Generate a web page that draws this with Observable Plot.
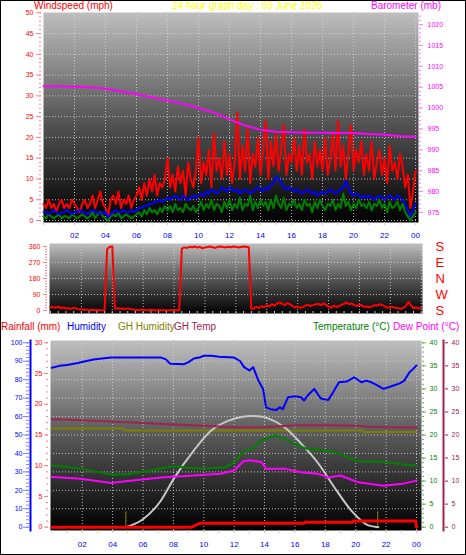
<!DOCTYPE html>
<html><head><meta charset="utf-8">
<script src="https://cdn.jsdelivr.net/npm/d3@7"></script>
<script src="https://cdn.jsdelivr.net/npm/@observablehq/plot@0.6"></script>
<style>
body{margin:0;background:#fff;}
#chart{position:relative;width:466px;height:555px;overflow:hidden;background:#fff;font-family:'Liberation Sans',Arial,sans-serif;}
#chart svg{position:absolute;left:0;top:0;}
#border{position:absolute;left:0;top:0;width:466px;height:555px;box-sizing:border-box;border:1px solid #000;pointer-events:none;}
</style></head><body><div id="chart"></div>
<script>
// ---------------- DATA ----------------
const windHours = d3.range(145).map(i => i / 6); // 10-minute readings, 00:00 .. 24:00
const windGust = [4,3,5,3,4,2,4,5,3,4,3,5,4,3,2,4,5,3,
  4,6,3,5,7,4,3,1,5,6,4,7,3,5,4,6,3,5,
  6,8,5,9,6,10,7,11,6,9,8,10,
  15,8,11,7,13,9,12,6,14,10,8,12,
  20,9,14,11,17,8,21,12,15,10,19,11,16,9,
  14,26,10,18,12,22,9,16,13,20,11,17,
  24,10,19,13,21,12,17,23,11,16,14,20,12,
  18,11,22,14,16,10,19,13,17,12,20,11,
  15,21,12,24,13,18,10,16,23,12,17,14,19,11,
  16,12,19,10,14,17,11,15,9,18,12,14,10,16,13,
  8,11,3,7,12];
const windAvg = [2,2,1.5,2,2.5,2,1.5,2,2,2.5,2,1.5,2,2,2.5,2,2,1.5,
  2,2.5,2,2,1.5,2,2,0.8,1.5,2,2.5,2,2,2.5,2,2,2.5,2,
  2.5,3,3,3.5,3.5,4,4,4.5,4.5,5,4.5,5,
  5.5,5,5.5,6,5.5,5,6,5.5,5,5.5,6,5.5,
  6,6.5,6,7,6.5,7.5,7,6.5,7,8,7.5,7,8,7.5,
  7,7.5,6.5,7,7.5,7,6.5,7,7.5,8,7.5,7,
  8,7.5,8.5,9,10.5,10,9,8,7.5,8,7.5,7,7.5,
  7,6.5,7,7.5,7,6.5,7,6,6.5,7,6.5,7,
  7.5,7,6.5,7,7.5,8,9.5,8,6.5,6,6.5,6,5.5,6,
  5.5,6,5.5,5,5.5,6,5.5,5,5.5,6,5.5,5,6,5.5,5,
  4,2.5,1,2.5,4];
const windMin = [1,0.5,1.5,1,0.5,1,1.5,0.5,1,1,0.5,1.5,1,0.5,1,1.5,1,0.5,
  1,2,0.5,1.5,2,1,0.5,0,1,1.5,1,2,0.5,1,1.5,1,0.5,1,
  1.5,2,1,2.5,1.5,3,2,2.5,1.5,3,2,3.5,
  2.5,3.5,2,4,2.5,3,2,4,3,2.5,3.5,2,
  3,4.5,2.5,4,3,5,2.5,4,3.5,2,4.5,3,5,2.5,
  4,3,5.5,2.5,4,3.5,6,2.5,4.5,3,5,3.5,
  4.5,2.5,5,3,6,4,3,5.5,2.5,4,3.5,5,3,
  4,2.5,5,3.5,4,2,4.5,3,5,3.5,2.5,4,
  3.5,5,2.5,4,3,6.5,3.5,4.5,2.5,4,3,5,3.5,4,
  3,4.5,2.5,4,3.5,5,3,4,2,4.5,3,3.5,4.5,2.5,4,
  2,1,0,1,2];
const baroHours = [0,1,2,3,4,5,6,7,8,9,10,11,12,13,14,15,16,17,18,19,20,21,22,23,24];
const baroValues = [1005.2,1005.2,1005.1,1005.0,1004.6,1004.0,1003.3,1002.5,1001.8,1001.0,1000.0,998.9,997.3,995.8,994.8,994.3,994.2,994.1,994.1,994.0,994.0,993.8,993.6,993.3,993.1];
const windDir = [18,20,15,22,12,18,10,14,8,16,12,5,8,3,5,2,4,1,3,2,0,
  2,345,358,360,10,
  12,10,11,9,12,8,5,3,4,2,6,3,1,4,2,0,3,1,2,0,1,3,0,2,1,
  348,
  355,352,358,356,360,354,358,350,355,357,360,356,352,358,360,357,355,359,356,360,358,354,357,360,358,356,
  8,
  12,20,14,25,18,30,22,35,28,40,45,38,30,42,35,25,18,22,15,20,28,32,25,30,35,38,30,40,32,22,
  15,28,20,25,32,38,45,35,40,30,25,35,28,20,22,18,25,30,28,35,30,22,15,18,20,15,12,10,15,25,48,30,12,18,10,15];

const humHours = [0,0.5,1,1.7,2.2,2.75,3.3,3.9,5,6,7.2,7.5,7.8,8.3,8.7,9.0,9.35,9.7,10.0,10.5,11,12.0,12.4,12.65,13.0,13.25,13.57,13.9,14.1,14.4,14.76,15.0,15.2,15.55,16.0,16.4,16.6,16.9,17.27,17.7,18.19,18.5,18.9,19.4,19.9,20.37,20.7,21.03,21.4,21.82,22.2,22.54,22.9,23.2,23.54,23.8,24];
const humValues = [86.5,87.5,88,89,90,91,91.5,92,92,92,92,91,88.6,88.5,88.4,89.5,91.5,92,93,93,92.5,92,90,86.8,85,86.8,80,75,65,64,63.5,65,64,70.5,71,70.5,68.7,72,75,69.8,69,73,78.6,79,81.3,78.6,79.5,78.6,77,75,76,77,78,79.5,84,86,87.7];
const ghHumHours = [0,4.7,4.75,20.5,20.55,24];
const ghHumValues = [53.5,53.5,52.5,52.5,51.6,51.6];
const ghTempHours = [0,2,4,6,8,10,12,13,14,16,18,20,21,22,24];
const ghTempValues = [23.4,23.2,22.9,22.6,22.3,22.0,21.7,21.6,21.7,22.1,22.1,22.0,21.8,21.7,21.6];
const tempHours = [0,0.57,1.9,3,3.9,5,6.1,7,8,9,9.8,11,11.4,12,12.6,13.1,13.3,13.7,14.4,14.7,15.3,15.9,16.8,18.1,19,20.1,21.8,23.2,24];
const tempValues = [13.4,13.2,12.7,12.0,11.4,11.5,12.1,12.6,13.2,12.9,12.7,12.9,13.0,14.1,16.3,17.0,17.2,18.8,19.5,19.9,19.2,18.1,17.0,16.6,15.9,14.3,14.2,13.6,13.3];
const dewHours = [0,0.57,1.9,3.9,5,7.2,9.35,11.1,12,12.6,13.1,13.8,14.1,15.3,16.4,17.5,18.2,19,20.1,21.8,23.2,24];
const dewValues = [10.9,10.8,10.5,9.6,10.0,10.8,11.2,11.6,12.3,14.3,14.5,14.1,12.7,12.7,11.9,11.6,10.8,11.2,9.8,9.0,9.5,10.1];
const sunHours = [4.86,6,7.17,8.03,9.35,10.47,11.59,12.65,13.1,13.77,14.23,15.29,16.41,17.53,18.59,19.71,20.83,21.49];
const sunValues = [0,1.3,4.3,7.9,12.5,15.7,17.3,18.0,18.1,18.0,17.7,16.3,13.6,10.4,6.5,2.7,0.3,0];
const sunEvents = [4.87, 21.45];       // sunrise / sunset markers
const sunMarkerTop = 2.6;
const rainHours = [0,9.2,9.75,16.6,16.65,19.8,19.85,23.95,24];
const rainValues = [0,0,0.65,0.65,0.8,0.8,1.0,1.0,0];

const timeTicks = [2,4,6,8,10,12,14,16,18,20,22,24];
const timeTickLabels = ["02","04","06","08","10","12","14","16","18","20","22","00"];
const windTicks = [0,5,10,15,20,25,30,35,40,45,50];
const baroTicks = [975,980,985,990,995,1000,1005,1010,1015,1020];
const dirTicks = [0,90,180,270,360];
const dirLetters = ["S","W","N","E","S"];
const rainTicks = [0,5,10,15,20,25,30];
const humTicks = [0,10,20,30,40,50,60,70,80,90,100];
const tempTicks = [0,5,10,15,20,25,30,35,40];

// ---------------- LAYOUT ----------------
const W = 466, H = 555;
const FONT = "'Liberation Sans', Arial, sans-serif";
const chart = document.getElementById("chart");
const TOP = {left: 43, right: 418, top: 12, bottom: 222};
const MID = {left: 49, right: 422, top: 243, bottom: 313};
const BOT = {left: 50, right: 421, top: 340, bottom: 530};
const xTop = [0, 24.19], xMid = [-0.065, 24.08], xBot = [-0.09, 24.33];
const yWind = [-0.48, 50.07], yBaro = [972.6, 1022.87], yDir = [-16.9, 376.9];
const yRain = [-0.54, 30.37], yHum = [-1.79, 101.25], yTemp = [-0.72, 40.5];

const RED = "#ff0000", BLUE = "#0000ff", GREEN = "#008000", MAG = "#ff00ff", OLIVE = "#808000", MAROON = "#a0224f", GREY = "#c8c8c8";
const gridStyle = {stroke: "#d6d6d6", strokeOpacity: 0.85, strokeDasharray: "1,2"};
const plain = d => String(d);

// gradient defs
const defs = d3.create("svg").attr("width", 0).attr("height", 0);
const g = defs.append("defs").append("linearGradient").attr("id", "panelBg").attr("x1", 0).attr("y1", 0).attr("x2", 0).attr("y2", 1);
g.append("stop").attr("offset", "0%").attr("stop-color", "#bebebe");
g.append("stop").attr("offset", "50%").attr("stop-color", "#585858");
g.append("stop").attr("offset", "100%").attr("stop-color", "#000000");
chart.appendChild(defs.node());

function layer(box, xDomain, yDomain, marks) {
  const svg = Plot.plot({
    width: W, height: H,
    marginLeft: box.left, marginRight: W - box.right, marginTop: box.top, marginBottom: H - box.bottom,
    x: {domain: xDomain, axis: null},
    y: {domain: yDomain, axis: null},
    style: {background: "transparent", fontFamily: FONT, overflow: "visible"},
    marks
  });
  chart.appendChild(svg);
}
const fmtTime = d => timeTickLabels[timeTicks.indexOf(d)];
const blank = () => "";

// ---- top panel: wind speed ----
layer(TOP, xTop, yWind, [
  Plot.frame({fill: "url(#panelBg)", stroke: "none"}),
  Plot.gridY(windTicks, gridStyle),
  Plot.gridX(timeTicks, gridStyle),
  Plot.lineY(windGust, {x: windHours, stroke: RED, strokeWidth: 2}),
  Plot.lineY(windMin, {x: windHours, stroke: GREEN, strokeWidth: 2}),
  Plot.lineY(windAvg, {x: windHours, stroke: BLUE, strokeWidth: 2}),
  Plot.axisY(d3.range(0, 51), {anchor: "left", tickSize: 2, dx: -2, tickFormat: blank, stroke: "#ff8080"}),
  Plot.axisY(windTicks, {anchor: "left", tickSize: 5, dx: -2, tickPadding: 3, tickFormat: plain, stroke: "#ff8080", fill: RED, fontSize: 7}),
  Plot.axisX(d3.range(0, 25), {anchor: "bottom", tickSize: 3, tickFormat: blank, stroke: "#c8c8c8"}),
  Plot.axisX(timeTicks, {anchor: "bottom", tickSize: 0, tickPadding: 10, tickFormat: fmtTime, fill: BLUE, fontSize: 8})
]);
// ---- top panel: barometer ----
layer(TOP, xTop, yBaro, [
  Plot.line(baroValues, {x: baroHours, y: baroValues, stroke: MAG, strokeWidth: 2}),
  Plot.axisY(d3.range(975, 1023), {anchor: "right", tickSize: 2, tickFormat: blank, stroke: "#ff80ff"}),
  Plot.axisY(baroTicks, {anchor: "right", tickSize: 4, tickPadding: 5, tickFormat: plain, stroke: "#ff80ff", fill: MAG, fontSize: 7})
]);
// ---- middle panel: wind direction ----
layer(MID, xMid, yDir, [
  Plot.frame({fill: "url(#panelBg)", stroke: "none"}),
  Plot.gridY([90, 180, 270], gridStyle),
  Plot.gridX(timeTicks, gridStyle),
  Plot.lineY(windDir, {x: windHours, stroke: RED, strokeWidth: 2}),
  Plot.axisY(d3.range(0, 361, 15), {anchor: "left", tickSize: 2, dx: -2, tickFormat: blank, stroke: "#ff8080"}),
  Plot.axisY(dirTicks, {anchor: "left", tickSize: 4, dx: -2, tickPadding: 3, tickFormat: plain, stroke: "#ff8080", fill: RED, fontSize: 7}),
  Plot.axisY(dirTicks, {anchor: "right", tickSize: 0, tickPadding: 13, tickFormat: d => dirLetters[dirTicks.indexOf(d)], fill: RED, fontSize: 13}),
  Plot.axisX(d3.range(0, 24.5, 0.5), {anchor: "bottom", tickSize: 2, dy: -2, tickFormat: blank, stroke: "#c8c8c8"})
]);
// ---- bottom panel: humidity scale ----
layer(BOT, xBot, yHum, [
  Plot.frame({fill: "url(#panelBg)", stroke: "none"}),
  Plot.gridY(humTicks.slice(1, 10), gridStyle),
  Plot.gridX(timeTicks, gridStyle),
  Plot.line(humValues, {x: humHours, y: humValues, stroke: BLUE, strokeWidth: 2}),
  Plot.line(ghHumValues, {x: ghHumHours, y: ghHumValues, stroke: OLIVE, strokeWidth: 2}),
  Plot.frame({anchor: "left", dx: -20, stroke: BLUE, strokeWidth: 2}),
  Plot.axisY(d3.range(0, 101, 2), {anchor: "left", tickSize: 3, dx: -21, tickFormat: blank, stroke: "#8080ff"}),
  Plot.axisY(humTicks, {anchor: "left", tickSize: 6, dx: -21, tickPadding: 1, tickFormat: plain, stroke: "#8080ff", fill: BLUE, fontSize: 7}),
  Plot.axisX(d3.range(0, 25), {anchor: "bottom", tickSize: 3, tickFormat: blank, stroke: "#c8c8c8"}),
  Plot.axisX(timeTicks, {anchor: "bottom", tickSize: 0, tickPadding: 11, tickFormat: fmtTime, fill: BLUE, fontSize: 8})
]);
// ---- bottom panel: sun curve (rain scale) ----
layer(BOT, xBot, yRain, [
  Plot.line(sunValues, {x: sunHours, y: sunValues, stroke: GREY, strokeWidth: 2, curve: "monotone-x"}),
  Plot.ruleX(sunEvents, {y1: 0, y2: sunMarkerTop, stroke: "#ffff00", strokeDasharray: "1,1"})
]);
// ---- bottom panel: temperatures ----
layer(BOT, xBot, yTemp, [
  Plot.line(ghTempValues, {x: ghTempHours, y: ghTempValues, stroke: MAROON, strokeWidth: 2}),
  Plot.line(tempValues, {x: tempHours, y: tempValues, stroke: GREEN, strokeWidth: 2}),
  Plot.line(dewValues, {x: dewHours, y: dewValues, stroke: MAG, strokeWidth: 2}),
  Plot.axisY(d3.range(0, 41), {anchor: "right", tickSize: 2, tickFormat: blank, stroke: "#60b060"}),
  Plot.axisY(tempTicks, {anchor: "right", tickSize: 4, tickPadding: 4, tickFormat: plain, stroke: "#60b060", fill: GREEN, fontSize: 7}),
  Plot.frame({anchor: "right", dx: 22, stroke: MAROON, strokeWidth: 2}),
  Plot.axisY(tempTicks, {anchor: "right", tickSize: 3, dx: 23, tickPadding: 4, tickFormat: plain, stroke: MAROON, fill: MAROON, fontSize: 7})
]);
// ---- bottom panel: rainfall ----
layer(BOT, xBot, yRain, [
  Plot.line(rainValues, {x: rainHours, y: rainValues, stroke: RED, strokeWidth: 3}),
  Plot.axisY(d3.range(0, 31), {anchor: "left", tickSize: 2, dx: -2, tickFormat: blank, stroke: "#ff8080"}),
  Plot.axisY(rainTicks, {anchor: "left", tickSize: 4, dx: -2, tickPadding: 2, tickFormat: plain, stroke: "#ff8080", fill: RED, fontSize: 7})
]);

// ---------------- TITLES ----------------
const titles = [
  {t: "Windspeed (mph)", x: 34, y: 9, c: RED},
  {t: "24 hour graph day : 03 June 2026", x: 172, y: 9, c: "#ffff00"},
  {t: "Barometer (mb)", x: 371, y: 9, c: MAG},
  {t: "Rainfall (mm)", x: 1, y: 330, c: RED},
  {t: "Humidity", x: 67, y: 330, c: BLUE},
  {t: "GH Humidity", x: 118, y: 330, c: OLIVE},
  {t: "GH Temp", x: 174, y: 330, c: MAROON},
  {t: "Temperature (°C)", x: 313, y: 330, c: GREEN},
  {t: "Dew Point (°C)", x: 393, y: 330, c: MAG}
];
const ts = d3.create("svg").attr("width", W).attr("height", H).style("overflow", "visible");
ts.selectAll("text").data(titles).join("text")
  .attr("x", d => d.x).attr("y", d => d.y).attr("fill", d => d.c)
  .attr("font-family", FONT).attr("font-size", 10).text(d => d.t);
chart.appendChild(ts.node());
const border = document.createElement("div"); border.id = "border"; chart.appendChild(border);
</script>
</body></html>
